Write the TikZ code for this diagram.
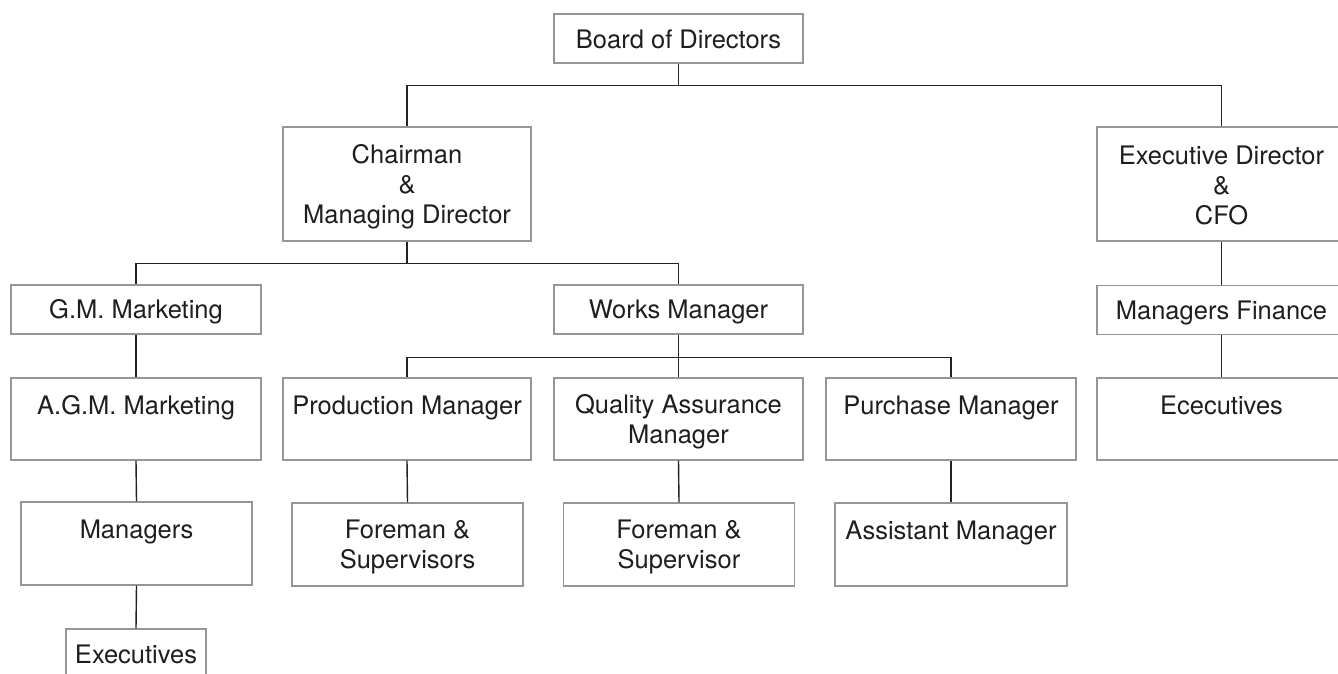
\documentclass[tikz,border=0pt]{standalone}
\usepackage{fontspec}
\setmainfont{TeX Gyre Heros}
\definecolor{boxline}{RGB}{150,150,150}
\definecolor{linkline}{RGB}{35,35,35}
\definecolor{inktext}{RGB}{30,30,30}
% a fixed strut so every line of a box sits at the same height
\newcommand\lnst{\rule[-4pt]{0pt}{28pt}}
\begin{document}
\begin{tikzpicture}[x=1pt,y=-1pt,
  unit/.style={draw=boxline,line width=1.3pt,fill=white,inner sep=0pt,
    align=center,text=inktext,font=\fontsize{25.5}{30}\selectfont},
  slim/.style={unit,minimum width=249pt,minimum height=49pt},
  tall/.style={unit,minimum width=249pt,minimum height=82pt},
  narrow/.style={unit,minimum width=231pt,minimum height=83pt},
  link/.style={draw=linkline,line width=1.4pt}]
\clip (0,0) rectangle (1338,673);
\fill[white] (0,0) rectangle (1338,673);

% top level
\node[slim] (board) at (678.5,38.5) {\lnst Board of Directors};
\node[unit,minimum width=248pt,minimum height=114pt] (chair) at (407,184)
  {\lnst Chairman\\\lnst\&\\\lnst Managing Director};
\node[unit,minimum width=249pt,minimum height=114pt] (exec) at (1221.5,184)
  {\lnst Executive Director\\\lnst\&\\\lnst CFO};

% marketing branch
\node[slim,minimum width=250pt] (gm) at (136,309.5) {\lnst G.M. Marketing};
\node[tall,minimum width=250pt] (agm) at (136,419) {\lnst A.G.M. Marketing\\\lnst};
\node[narrow] (mgrs) at (136.5,543.5) {\lnst Managers\\\lnst};
\node[unit,minimum width=140pt,minimum height=49pt] (execs) at (136,653.5) {\lnst Executives};

% works branch
\node[slim] (works) at (678.5,309.5) {\lnst Works Manager};
\node[tall,minimum width=248pt] (prod) at (407,419) {\lnst Production Manager\\\lnst};
\node[tall] (qa) at (678.5,419) {\lnst Quality Assurance\\\lnst Manager};
\node[tall,minimum width=250pt] (purch) at (951,419) {\lnst Purchase Manager\\\lnst};
\node[narrow] (fore1) at (407.5,544.5) {\lnst Foreman \&\\\lnst Supervisors};
\node[narrow] (fore2) at (679,544.5) {\lnst Foreman \&\\\lnst Supervisor};
\node[narrow,minimum width=232pt] (asst) at (951,544.5) {\lnst Assistant Manager\\\lnst};

% finance branch
\node[slim] (mfin) at (1221.5,310) {\lnst Managers Finance};
\node[tall] (ecec) at (1221.5,419) {\lnst Ececutives\\\lnst};

% connectors
\draw[link] (board.south) -- ++(0,22) -| (chair.north);
\draw[link] (board.south) -- ++(0,22) -| (exec.north);
\draw[link] (chair.south) -- ++(0,22) -| (gm.north);
\draw[link] (chair.south) -- ++(0,22) -| (works.north);
\draw[link] (works.south) -- ++(0,23) -| (prod.north);
\draw[link] (works.south) -- (qa.north);
\draw[link] (works.south) -- ++(0,23) -| (purch.north);
\draw[link] (gm.south) -- (agm.north);
\draw[link] (agm.south) -- (mgrs.north);
\draw[link] (mgrs.south) -- (execs.north);
\draw[link] (prod.south) -- (fore1.north);
\draw[link] (qa.south) -- (fore2.north);
\draw[link] (purch.south) -- (asst.north);
\draw[link] (exec.south) -- (mfin.north);
\draw[link] (mfin.south) -- (ecec.north);
\end{tikzpicture}
\end{document}
